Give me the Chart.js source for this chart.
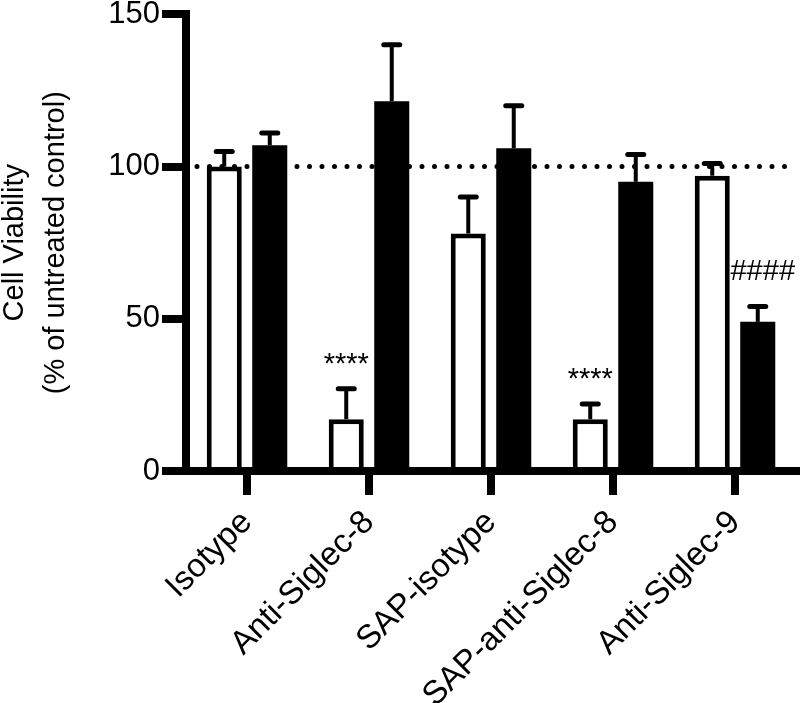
<!DOCTYPE html>
<html>
<head>
<meta charset="utf-8">
<script src="https://cdn.jsdelivr.net/npm/chart.js@4.4.1/dist/chart.umd.min.js"></script>
<style>
  html, body { margin: 0; padding: 0; background: #fff; }
  canvas { display: block; }
</style>
</head>
<body>
<canvas id="chart" width="800" height="703"></canvas>
<script>
// values (mean, upper SD) per treatment
const categories  = ['Isotype', 'Anti-Siglec-8', 'SAP-isotype', 'SAP-anti-Siglec-8', 'Anti-Siglec-9'];
const openMeans   = [100, 17, 78, 17, 97];
const openErr     = [5, 10, 12, 5, 4];
const filledMeans = [107, 121.5, 106, 95, 49];
const filledErr   = [4, 18.5, 14, 9, 5];
const openMarks   = ['', '****', '', '****', ''];
const filledMarks = ['', '', '', '', '####'];
const yTicks      = [0, 50, 100, 150];
const refValue    = 100;

const FONT = 'Liberation Sans, Arial, Helvetica, sans-serif';

// dotted reference line behind the bars
const refLine = {
    id: 'refLine',
    beforeDatasetsDraw(chart) {
        const {ctx, chartArea, scales} = chart;
        const y = scales.y.getPixelForValue(refValue);
        ctx.save();
        ctx.strokeStyle = '#000';
        ctx.lineWidth   = 5;
        ctx.lineCap     = 'round';
        ctx.setLineDash([0, 12.5]);
        ctx.beginPath();
        ctx.moveTo(chartArea.left + 11, y);
        ctx.lineTo(chartArea.right - 8, y);
        ctx.stroke();
        ctx.restore();
    }
};

// upper error bars + significance marks
const errorBars = {
    id: 'errorBars',
    afterDatasetsDraw(chart) {
        const {ctx, scales} = chart;
        chart.data.datasets.forEach((ds, i) => {
            const meta = chart.getDatasetMeta(i);
            meta.data.forEach((bar, j) => {
                const top = scales.y.getPixelForValue(ds.data[j] + ds.errors[j]);
                ctx.save();
                ctx.strokeStyle = '#000';
                ctx.lineCap     = 'butt';
                ctx.lineWidth   = 4;
                ctx.beginPath();
                ctx.moveTo(bar.x, bar.y);
                ctx.lineTo(bar.x, top);
                ctx.stroke();
                ctx.lineCap   = 'round';
                ctx.lineWidth = 5;
                ctx.beginPath();
                ctx.moveTo(bar.x - 8, top);
                ctx.lineTo(bar.x + 8, top);
                ctx.stroke();
                const mark = ds.marks[j];
                if (mark) {
                    ctx.fillStyle    = '#000';
                    ctx.font         = `29px ${FONT}`;
                    ctx.textAlign    = 'center';
                    ctx.textBaseline = 'middle';
                    ctx.fillText(mark, bar.x + (mark[0] === '#' ? 5 : 0), top - (mark[0] === '#' ? 35 : 24));
                }
                ctx.restore();
            });
        });
    }
};

new Chart(document.getElementById('chart'), {
    type: 'bar',
    data: {
        labels: categories,
        datasets: [
            {
                label: 'open',
                data: openMeans,
                errors: openErr,
                marks: openMarks,
                backgroundColor: '#fff',
                borderColor: '#000',
                borderWidth: 5,
                borderSkipped: 'bottom'
            },
            {
                label: 'filled',
                data: filledMeans,
                errors: filledErr,
                marks: filledMarks,
                backgroundColor: '#000',
                borderColor: '#000',
                borderWidth: 0
            }
        ]
    },
    options: {
        responsive: false,
        animation: false,
        categoryPercentage: 0.746,
        barPercentage: 0.77,
        layout: {padding: {top: 14, right: 4, left: 0, bottom: 0}},
        plugins: {legend: {display: false}, tooltip: {enabled: false}},
        scales: {
            x: {
                grid: {display: true, drawOnChartArea: false, offset: false, tickLength: 24, lineWidth: 8, tickColor: '#000'},
                border: {display: true, width: 8, color: '#000'},
                ticks: {
                    autoSkip: false, maxRotation: 45, minRotation: 45, padding: 8,
                    color: '#000', font: {family: FONT, size: 33}
                },
                afterFit(scale) { scale.height = 232; }
            },
            y: {
                min: 0, max: 150,
                afterBuildTicks(scale) { scale.ticks = yTicks.map(v => ({value: v})); },
                grid: {display: true, drawOnChartArea: false, tickLength: 24, lineWidth: 8, tickColor: '#000'},
                border: {display: true, width: 8, color: '#000'},
                ticks: {padding: 2, color: '#000', font: {family: FONT, size: 31, lineHeight: 0.8}},
                title: {
                    display: true,
                    text: ['Cell Viability', '(% of untreated control)'],
                    color: '#000',
                    font: {family: FONT, size: 29, lineHeight: 1.4},
                    padding: {top: -5, bottom: 0}
                },
                afterFit(scale) { scale.width = 186; }
            }
        }
    },
    plugins: [refLine, errorBars]
});
</script>
</body>
</html>
